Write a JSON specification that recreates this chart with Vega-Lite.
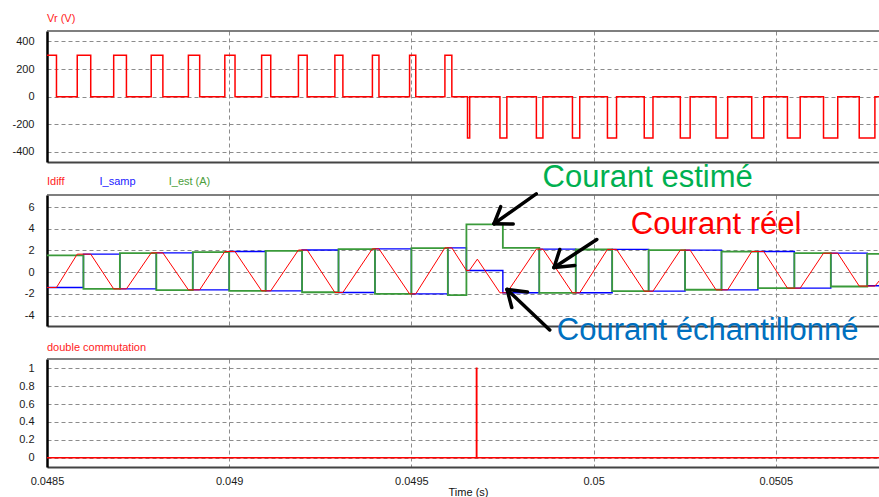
{
  "$schema": "https://vega.github.io/schema/vega-lite/v6.json",
  "padding": {"left": 11, "top": 12, "right": 0, "bottom": 0},
  "bounds": "flush",
  "spacing": 33,
  "config": {
    "view": {"stroke": null},
    "font": "Liberation Sans",
    "axis": {
      "labelFont": "Liberation Sans", "labelFontSize": 11, "labelColor": "#1a1a1a",
      "ticks": false, "tickSize": 0, "gridColor": "#8c8c8c", "gridDash": [4, 3],
      "gridWidth": 1, "gridOpacity": 1, "labelFlush": false, "labelOverlap": false, "tickCount": 20
    }
  },
  "datasets": {
    "vr": [
      {"t": 0.0485, "v": 300}, {"t": 0.048526, "v": 0}, {"t": 0.048583, "v": 300}, {"t": 0.04862, "v": 0},
      {"t": 0.048683, "v": 300}, {"t": 0.048718, "v": 0}, {"t": 0.048786, "v": 300}, {"t": 0.048818, "v": 0},
      {"t": 0.048888, "v": 300}, {"t": 0.048919, "v": 0}, {"t": 0.048988, "v": 300}, {"t": 0.049016, "v": 0},
      {"t": 0.049089, "v": 300}, {"t": 0.049114, "v": 0}, {"t": 0.04919, "v": 300}, {"t": 0.049214, "v": 0},
      {"t": 0.04929, "v": 300}, {"t": 0.049312, "v": 0}, {"t": 0.049393, "v": 300}, {"t": 0.049411, "v": 0},
      {"t": 0.049495, "v": 300}, {"t": 0.049512, "v": 0}, {"t": 0.049592, "v": 300}, {"t": 0.049611, "v": 0},
      {"t": 0.049654, "v": -300}, {"t": 0.04966, "v": 0}, {"t": 0.049743, "v": -300}, {"t": 0.049762, "v": 0},
      {"t": 0.049843, "v": -300}, {"t": 0.049861, "v": 0}, {"t": 0.049942, "v": -300}, {"t": 0.049962, "v": 0},
      {"t": 0.050038, "v": -300}, {"t": 0.050063, "v": 0}, {"t": 0.050139, "v": -300}, {"t": 0.050163, "v": 0},
      {"t": 0.050238, "v": -300}, {"t": 0.050265, "v": 0}, {"t": 0.050336, "v": -300}, {"t": 0.050368, "v": 0},
      {"t": 0.050434, "v": -300}, {"t": 0.050467, "v": 0}, {"t": 0.050532, "v": -300}, {"t": 0.050567, "v": 0},
      {"t": 0.050631, "v": -300}, {"t": 0.05067, "v": 0}, {"t": 0.050729, "v": -300}, {"t": 0.050772, "v": 0},
      {"t": 0.050786, "v": 0}
    ],
    "idiff": [
      {"t": 0.0485, "v": -1.41}, {"t": 0.048526, "v": -1.41}, {"t": 0.048583, "v": 1.66}, {"t": 0.04862, "v": 1.66},
      {"t": 0.048683, "v": -1.54}, {"t": 0.048718, "v": -1.54}, {"t": 0.048786, "v": 1.78}, {"t": 0.048818, "v": 1.78},
      {"t": 0.048888, "v": -1.63}, {"t": 0.048919, "v": -1.63}, {"t": 0.048988, "v": 1.9}, {"t": 0.049016, "v": 1.9},
      {"t": 0.049089, "v": -1.72}, {"t": 0.049114, "v": -1.72}, {"t": 0.04919, "v": 2.04}, {"t": 0.049214, "v": 2.04},
      {"t": 0.04929, "v": -1.87}, {"t": 0.049312, "v": -1.87}, {"t": 0.049393, "v": 2.15}, {"t": 0.049411, "v": 2.15},
      {"t": 0.049495, "v": -2.0}, {"t": 0.049512, "v": -2.0}, {"t": 0.049592, "v": 2.24}, {"t": 0.049611, "v": 2.24},
      {"t": 0.049651, "v": 0.15}, {"t": 0.049659, "v": 0.15}, {"t": 0.049681, "v": 1.2}, {"t": 0.049743, "v": -1.9},
      {"t": 0.049762, "v": -1.9}, {"t": 0.049843, "v": 2.12}, {"t": 0.049861, "v": 2.12}, {"t": 0.049942, "v": -1.9},
      {"t": 0.049962, "v": -1.9}, {"t": 0.050038, "v": 2.1}, {"t": 0.050063, "v": 2.1}, {"t": 0.050139, "v": -1.75},
      {"t": 0.050163, "v": -1.75}, {"t": 0.050238, "v": 2.03}, {"t": 0.050265, "v": 2.03}, {"t": 0.050336, "v": -1.63},
      {"t": 0.050368, "v": -1.63}, {"t": 0.050434, "v": 1.9}, {"t": 0.050467, "v": 1.9}, {"t": 0.050532, "v": -1.47},
      {"t": 0.050567, "v": -1.47}, {"t": 0.050631, "v": 1.75}, {"t": 0.05067, "v": 1.75}, {"t": 0.050729, "v": -1.28},
      {"t": 0.050772, "v": -1.28}, {"t": 0.050786, "v": -0.72}
    ],
    "isamp": [
      {"t": 0.0485, "v": -1.41}, {"t": 0.0486, "v": 1.66}, {"t": 0.0487, "v": -1.54}, {"t": 0.0488, "v": 1.78},
      {"t": 0.0489, "v": -1.63}, {"t": 0.049, "v": 1.9}, {"t": 0.0491, "v": -1.72}, {"t": 0.0492, "v": 2.04},
      {"t": 0.0493, "v": -1.87}, {"t": 0.0494, "v": 2.15}, {"t": 0.0495, "v": -2.0}, {"t": 0.0496, "v": 2.24},
      {"t": 0.049651, "v": 0.15}, {"t": 0.049751, "v": -1.9}, {"t": 0.049851, "v": 2.12}, {"t": 0.049951, "v": -1.9},
      {"t": 0.050051, "v": 2.1}, {"t": 0.050151, "v": -1.75}, {"t": 0.050251, "v": 2.03}, {"t": 0.050351, "v": -1.63},
      {"t": 0.050451, "v": 1.9}, {"t": 0.050551, "v": -1.47}, {"t": 0.050651, "v": 1.75}, {"t": 0.050751, "v": -1.25},
      {"t": 0.050786, "v": -1.25}
    ],
    "iest": [
      {"t": 0.0485, "v": 1.54}, {"t": 0.0486, "v": -1.54}, {"t": 0.0487, "v": 1.75}, {"t": 0.0488, "v": -1.66},
      {"t": 0.0489, "v": 1.84}, {"t": 0.049, "v": -1.72}, {"t": 0.0491, "v": 1.97}, {"t": 0.0492, "v": -1.85},
      {"t": 0.0493, "v": 2.12}, {"t": 0.0494, "v": -2.0}, {"t": 0.0495, "v": 2.21}, {"t": 0.0496, "v": -2.12},
      {"t": 0.049651, "v": 4.4}, {"t": 0.049751, "v": 2.24}, {"t": 0.049851, "v": -1.9}, {"t": 0.049951, "v": 2.09},
      {"t": 0.050051, "v": -1.75}, {"t": 0.050151, "v": 2.03}, {"t": 0.050251, "v": -1.62}, {"t": 0.050351, "v": 1.9},
      {"t": 0.050451, "v": -1.47}, {"t": 0.050551, "v": 1.75}, {"t": 0.050651, "v": -1.32}, {"t": 0.050751, "v": 1.69},
      {"t": 0.050786, "v": 1.69}
    ],
    "dc": [
      {"t": 0.0485, "v": 0}, {"t": 0.0496785, "v": 0}, {"t": 0.0496785, "v": 1}, {"t": 0.0496795, "v": 1},
      {"t": 0.0496795, "v": 0}, {"t": 0.050786, "v": 0}
    ],
    "arrows": [
      {"t1": 0.0498426, "v1": 7.22, "t2": 0.0497268, "v2": 4.46},
      {"t1": 0.0497268, "v1": 4.46, "t2": 0.0497452, "v2": 6.04},
      {"t1": 0.0497268, "v1": 4.46, "t2": 0.0497795, "v2": 4.44},
      {"t1": 0.0500088, "v1": 3.01, "t2": 0.0498915, "v2": 0.43},
      {"t1": 0.0498915, "v1": 0.43, "t2": 0.0499072, "v2": 2.09},
      {"t1": 0.0498915, "v1": 0.43, "t2": 0.0499484, "v2": 0.62},
      {"t1": 0.0498797, "v1": -5.33, "t2": 0.0497625, "v2": -1.59},
      {"t1": 0.0497625, "v1": -1.59, "t2": 0.0498185, "v2": -1.82},
      {"t1": 0.0497625, "v1": -1.59, "t2": 0.0497754, "v2": -3.25}
    ]
  },
  "vconcat": [
    {
      "width": 833, "height": 131,
      "layer": [
        {
          "data": {"name": "vr"},
          "mark": {"type": "line", "interpolate": "step-after", "color": "#ff0000", "strokeWidth": 1.5},
          "encoding": {
            "x": {"field": "t", "type": "quantitative",
              "scale": {"domain": [0.0485, 0.050786], "nice": false, "zero": false},
              "axis": {"values": [0.0485, 0.049, 0.0495, 0.05, 0.0505], "tickCount": 20, "labels": false, "title": null, "grid": true, "domainColor": "#444", "domainWidth": 2}},
            "y": {"field": "v", "type": "quantitative",
              "scale": {"domain": [-473, 476], "nice": false, "zero": false},
              "axis": {"values": [-400, -200, 0, 200, 400], "tickCount": 20, "labelOverlap": false, "labelExpr": "toString(datum.value)", "title": null, "grid": true, "domainColor": "#000", "domainWidth": 2.5, "labelPadding": 13}}
          }
        },
        {
          "data": {"values": [{"v": 476}]},
          "mark": {"type": "rule", "color": "#555", "strokeWidth": 1.5},
          "encoding": {"y": {"field": "v", "type": "quantitative"}}
        },
        {
          "data": {"values": [{"t": 0.0485, "v": 543, "label": "Vr (V)"}]},
          "mark": {"type": "text", "align": "left", "baseline": "alphabetic", "fontSize": 11, "color": "#f22", "font": "Liberation Sans"},
          "encoding": {"x": {"field": "t", "type": "quantitative"}, "y": {"field": "v", "type": "quantitative"}, "text": {"field": "label"}}
        }
      ]
    },
    {
      "width": 833, "height": 131,
      "layer": [
        {
          "data": {"name": "isamp"},
          "mark": {"type": "line", "interpolate": "step-after", "color": "#0000ff", "strokeWidth": 1.4},
          "encoding": {
            "x": {"field": "t", "type": "quantitative",
              "scale": {"domain": [0.0485, 0.050786], "nice": false, "zero": false},
              "axis": {"values": [0.0485, 0.049, 0.0495, 0.05, 0.0505], "tickCount": 20, "labels": false, "title": null, "grid": true, "domainColor": "#444", "domainWidth": 2}},
            "y": {"field": "v", "type": "quantitative",
              "scale": {"domain": [-4.96, 7.11], "nice": false, "zero": false},
              "axis": {"values": [-4, -2, 0, 2, 4, 6], "tickCount": 20, "labelOverlap": false, "labelExpr": "toString(datum.value)", "title": null, "grid": true, "domainColor": "#000", "domainWidth": 2.5, "labelPadding": 13}}
          }
        },
        {
          "data": {"name": "iest"},
          "mark": {"type": "line", "interpolate": "step-after", "color": "#3a9a3a", "strokeWidth": 1.8},
          "encoding": {"x": {"field": "t", "type": "quantitative"}, "y": {"field": "v", "type": "quantitative"}}
        },
        {
          "data": {"name": "idiff"},
          "mark": {"type": "line", "color": "#ff0000", "strokeWidth": 1},
          "encoding": {"x": {"field": "t", "type": "quantitative"}, "y": {"field": "v", "type": "quantitative"}}
        },
        {
          "data": {"values": [{"v": 7.11}]},
          "mark": {"type": "rule", "color": "#555", "strokeWidth": 1.5},
          "encoding": {"y": {"field": "v", "type": "quantitative"}}
        },
        {
          "data": {"values": [{"t": 0.0485, "v": 7.99, "label": "Idiff"}]},
          "mark": {"type": "text", "align": "left", "baseline": "alphabetic", "fontSize": 11, "color": "#f22"},
          "encoding": {"x": {"field": "t", "type": "quantitative"}, "y": {"field": "v", "type": "quantitative"}, "text": {"field": "label"}}
        },
        {
          "data": {"values": [{"t": 0.048644, "v": 7.99, "label": "I_samp"}]},
          "mark": {"type": "text", "align": "left", "baseline": "alphabetic", "fontSize": 11, "color": "#2222ff"},
          "encoding": {"x": {"field": "t", "type": "quantitative"}, "y": {"field": "v", "type": "quantitative"}, "text": {"field": "label"}}
        },
        {
          "data": {"values": [{"t": 0.048834, "v": 7.99, "label": "I_est (A)"}]},
          "mark": {"type": "text", "align": "left", "baseline": "alphabetic", "fontSize": 11, "color": "#4c9e3c"},
          "encoding": {"x": {"field": "t", "type": "quantitative"}, "y": {"field": "v", "type": "quantitative"}, "text": {"field": "label"}}
        },
        {
          "data": {"name": "arrows"},
          "mark": {"type": "rule", "color": "#000", "strokeWidth": 3.5, "strokeCap": "round"},
          "encoding": {
            "x": {"field": "t1", "type": "quantitative"}, "y": {"field": "v1", "type": "quantitative"},
            "x2": {"field": "t2"}, "y2": {"field": "v2"}
          }
        },
        {
          "data": {"values": [{"t": 0.04986, "v": 7.82, "label": "Courant estimé"}]},
          "mark": {"type": "text", "align": "left", "baseline": "alphabetic", "fontSize": 31, "color": "#00b050"},
          "encoding": {"x": {"field": "t", "type": "quantitative"}, "y": {"field": "v", "type": "quantitative"}, "text": {"field": "label"}}
        },
        {
          "data": {"values": [{"t": 0.050102, "v": 3.52, "label": "Courant réel"}]},
          "mark": {"type": "text", "align": "left", "baseline": "alphabetic", "fontSize": 31, "color": "#ff0000"},
          "encoding": {"x": {"field": "t", "type": "quantitative"}, "y": {"field": "v", "type": "quantitative"}, "text": {"field": "label"}}
        },
        {
          "data": {"values": [{"t": 0.049899, "v": -6.25, "label": "Courant échantillonné"}]},
          "mark": {"type": "text", "align": "left", "baseline": "alphabetic", "fontSize": 31, "color": "#0070c0"},
          "encoding": {"x": {"field": "t", "type": "quantitative"}, "y": {"field": "v", "type": "quantitative"}, "text": {"field": "label"}}
        }
      ]
    },
    {
      "width": 833, "height": 108,
      "layer": [
        {
          "data": {"name": "dc"},
          "mark": {"type": "line", "color": "#ff0000", "strokeWidth": 1.5},
          "encoding": {
            "x": {"field": "t", "type": "quantitative",
              "scale": {"domain": [0.0485, 0.050786], "nice": false, "zero": false},
              "axis": {"values": [0.0485, 0.049, 0.0495, 0.05, 0.0505], "tickCount": 20, "labelExpr": "toString(datum.value)", "labelPadding": 8, "grid": true, "domainColor": "#444", "domainWidth": 2,
                "title": "Time (s)", "titleFont": "Liberation Sans", "titleFontSize": 11, "titleFontWeight": "normal", "titleColor": "#111", "titleX": 421, "titleY": 19, "titleBaseline": "top"}},
            "y": {"field": "v", "type": "quantitative",
              "scale": {"domain": [-0.104, 1.104], "nice": false, "zero": false},
              "axis": {"values": [0, 0.2, 0.4, 0.6, 0.8, 1], "tickCount": 20, "labelOverlap": false, "labelExpr": "toString(datum.value)", "title": null, "grid": true, "domainColor": "#000", "domainWidth": 2.5, "labelPadding": 13}}
          }
        },
        {
          "data": {"values": [{"v": 1.104}]},
          "mark": {"type": "rule", "color": "#555", "strokeWidth": 1.5},
          "encoding": {"y": {"field": "v", "type": "quantitative"}}
        },
        {
          "data": {"values": [{"t": 0.0485, "v": 1.188, "label": "double commutation"}]},
          "mark": {"type": "text", "align": "left", "baseline": "alphabetic", "fontSize": 11, "color": "#f22"},
          "encoding": {"x": {"field": "t", "type": "quantitative"}, "y": {"field": "v", "type": "quantitative"}, "text": {"field": "label"}}
        }
      ]
    }
  ]
}
